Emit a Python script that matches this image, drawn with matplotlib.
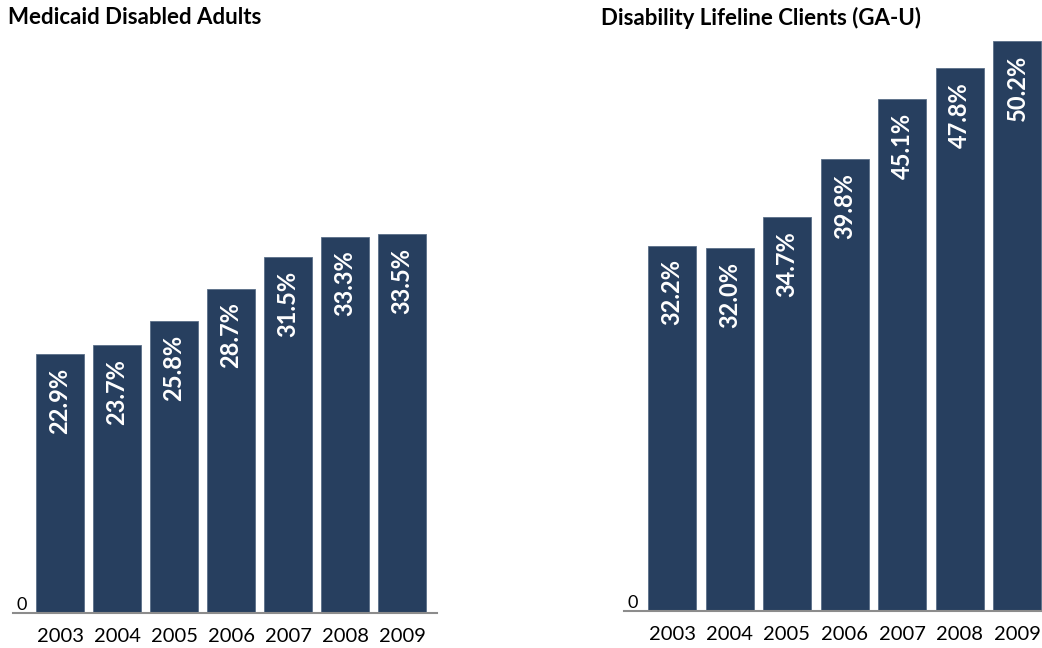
import numpy as np
import matplotlib.pyplot as plt

plt.rcParams['font.family'] = ['Lato', 'DejaVu Sans']

years = ['2003', '2004', '2005', '2006', '2007', '2008', '2009']
medicaid = [22.9, 23.7, 25.8, 28.7, 31.5, 33.3, 33.5]
lifeline = [32.2, 32.0, 34.7, 39.8, 45.1, 47.8, 50.2]
titles = ['Medicaid Disabled Adults', 'Disability Lifeline Clients (GA-U)']

bar_color = '#273F5F'
W, H = 1042, 648

fig = plt.figure(figsize=(W / 100, H / 100), dpi=100)

# panel geometry in pixels: left edge, right edge, baseline y, px per unit, first bar centre, spacing
panels = [
    (13, 437, 613, 11.3, 60, 57.0, medicaid),
    (624, 1042, 611, 11.35, 672, 57.5, lifeline),
]

ymax = 52
for i, (x0, x1, base, scale, c0, step, vals) in enumerate(panels):
    h = ymax * scale
    ax = fig.add_axes([x0 / W, (H - base) / H, (x1 - x0) / W, h / H])
    x = np.arange(len(years))
    ax.bar(x, vals, width=48 / step, color=bar_color, edgecolor='#5a6f88', linewidth=0.6)
    ax.set_xlim((x0 - c0) / step, (x1 - c0) / step)
    ax.set_ylim(0, ymax)
    for xi, v in zip(x, vals):
        ax.annotate(f'{v:.1f}%', (xi, v), xytext=(0, -10), textcoords='offset points',
                    rotation=90, ha='center', va='top', color='white',
                    fontsize=17, fontweight='bold')
    for s in ['top', 'right', 'left']:
        ax.spines[s].set_visible(False)
    ax.spines['bottom'].set_color('#8c8c8c')
    ax.spines['bottom'].set_linewidth(1.5)
    ax.set_yticks([0])
    ax.set_yticklabels(['0'], fontsize=13)
    ax.tick_params(axis='y', length=0, pad=-10)
    for lab in ax.get_yticklabels():
        lab.set_verticalalignment('bottom')
    ax.set_xticks(x)
    ax.set_xticklabels(years, fontsize=14.5)
    ax.tick_params(axis='x', length=0, pad=11)
    fig.text((8 if i == 0 else 601) / W, 1 - 18 / H, titles[i], fontsize=16,
             fontweight='bold', ha='left', va='center')

fig.savefig('out.png', dpi=100)
